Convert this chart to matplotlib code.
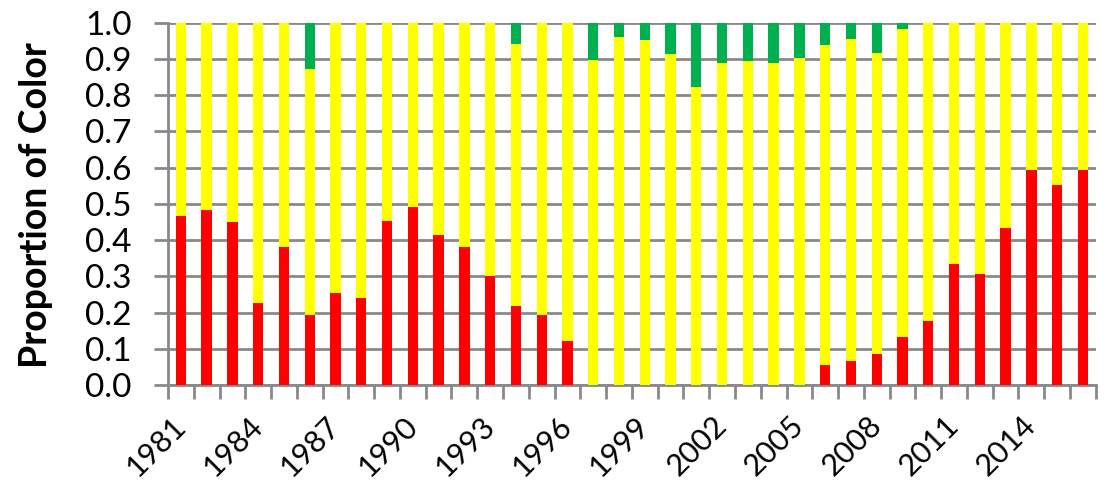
import matplotlib.pyplot as plt
import numpy as np

# 연도별 색 비율 (red / yellow / green)
years = list(range(1981, 2017))
red = [0.466, 0.483, 0.451, 0.226, 0.381, 0.193, 0.255, 0.241, 0.454, 0.491,
       0.415, 0.381, 0.301, 0.217, 0.193, 0.121, 0.0, 0.0, 0.0, 0.0,
       0.0, 0.0, 0.0, 0.0, 0.0, 0.054, 0.067, 0.086, 0.132, 0.176,
       0.334, 0.306, 0.433, 0.594, 0.553, 0.594]
green = [0.0, 0.0, 0.0, 0.0, 0.0, 0.127, 0.0, 0.0, 0.0, 0.0,
         0.0, 0.0, 0.0, 0.058, 0.0, 0.0, 0.103, 0.040, 0.048, 0.087,
         0.178, 0.112, 0.106, 0.111, 0.098, 0.062, 0.045, 0.084, 0.017, 0.0,
         0.0, 0.0, 0.0, 0.0, 0.0, 0.0]
yellow = [1 - r - g for r, g in zip(red, green)]

plt.rcParams['font.family'] = ['Lato', 'DejaVu Sans']

fig = plt.figure(figsize=(11.08, 4.86), dpi=100)
ax = fig.add_axes([0.1516, 0.2078, 0.8374, 0.7452])

x = np.arange(len(years))
w = 0.4
ax.bar(x, red, w, color='#FF0000', zorder=3)
ax.bar(x, yellow, w, bottom=red, color='#FFFF00', zorder=3)
ax.bar(x, green, w, bottom=np.array(red) + np.array(yellow), color='#00B050', zorder=3)

ax.set_xlim(-0.5, len(years) - 0.5)
ax.set_ylim(0, 1.0)
ax.set_yticks(np.arange(0, 1.01, 0.1))
ax.set_yticklabels([f"{v:.1f}" for v in np.arange(0, 1.01, 0.1)], fontsize=24)
ax.yaxis.grid(True, color='#898989', linewidth=2, zorder=0)
ax.tick_params(axis='y', length=10, width=2, color='#898989', pad=16)

# x축: 경계마다 눈금, 3년마다 라벨
ax.set_xticks(np.arange(-0.5, len(years), 1), minor=True)
ax.set_xticks(x[::3])
ax.set_xticklabels([str(y) for y in years[::3]], fontsize=22, rotation=45,
                   ha='right', va='center', rotation_mode='anchor')
ax.tick_params(axis='x', which='major', length=0, pad=26)
ax.tick_params(axis='x', which='minor', length=10, width=2, color='#898989')

for s in ['top', 'right']:
    ax.spines[s].set_visible(False)
for s in ['left', 'bottom']:
    ax.spines[s].set_color('#898989')
    ax.spines[s].set_linewidth(2)

fig.text(36 / 1108, 1 - 205 / 486, 'Proportion of Color', fontsize=27,
         fontweight='bold', rotation=90, ha='center', va='center')

fig.savefig('out.png', dpi=100)
